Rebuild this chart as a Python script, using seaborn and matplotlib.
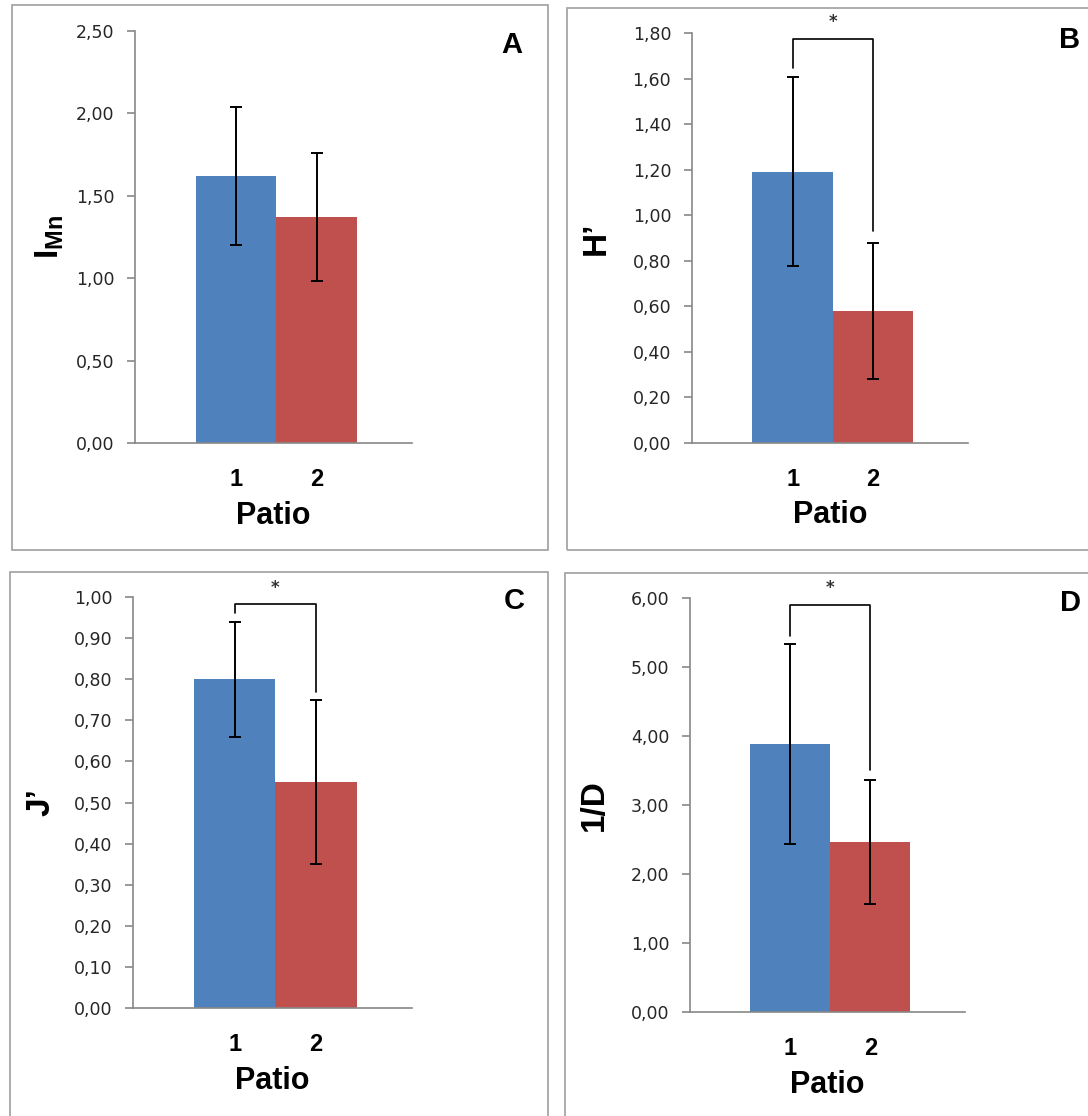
import numpy as np
import pandas as pd
import matplotlib
matplotlib.use("Agg")
import matplotlib.pyplot as plt
from matplotlib.patches import Rectangle
import seaborn as sns

sns.set_theme(style="white")
plt.rcParams['font.family'] = ['Liberation Sans', 'DejaVu Sans']
plt.rcParams['mathtext.fontset'] = 'custom'
plt.rcParams['mathtext.bf'] = 'Liberation Sans:bold'
plt.rcParams['mathtext.rm'] = 'Liberation Sans'

# ---- data ----
patio = ["1", "2"]
imn_mean = [1.62, 1.37]
imn_err = [0.42, 0.39]
h_mean = [1.19, 0.58]
h_err = [0.415, 0.30]
j_mean = [0.80, 0.55]
j_err = [0.14, 0.20]
invd_mean = [3.88, 2.46]
invd_err = [1.45, 0.90]

panel_letters = ["A", "B", "C", "D"]
ylabels = [r"$\mathbf{I}_{\mathbf{Mn}}$", "H’", "J’", "1/D"]
yticks_list = [np.arange(0, 2.51, 0.5), np.arange(0, 1.81, 0.2),
               np.arange(0, 1.001, 0.1), np.arange(0, 6.01, 1.0)]
# significance brackets: (bracket y, left leg bottom, right leg bottom, star y)
brackets = [None, (1.775, 1.645, 0.93, 1.81), (0.984, 0.961, 0.77, 1.0), (5.90, 5.45, 3.51, 6.02)]

means = [imn_mean, h_mean, j_mean, invd_mean]
errs = [imn_err, h_err, j_err, invd_err]

colors = ["#4F81BD", "#C0504D"]
W, H = 1088, 1116
fig = plt.figure(figsize=(W / 100, H / 100), dpi=100)

# panel frames (pixels: x0, y0, x1, y1)
frames = [(12, 5, 548, 550), (567, 8, 1095, 550), (10, 572, 548, 1122), (565, 573, 1095, 1122)]
for (x0, y0, x1, y1) in frames:
    fig.patches.append(Rectangle((x0 / W, 1 - y1 / H), (x1 - x0) / W, (y1 - y0) / H,
                                 transform=fig.transFigure, fill=False,
                                 edgecolor="#a6a6a6", linewidth=1.3, zorder=0))

# axes positions in pixels: left, top, right, bottom
axpos = [(135, 31, 412, 443), (692, 33, 968, 443), (133, 597, 412, 1008), (690, 598, 965, 1012)]
ylab_x = [-0.25, -0.29, -0.276, -0.29]
letter_pos = [(512, 45), (1070, 40), (514, 601), (1070, 603)]

for i in range(4):
    l, t, r, b = axpos[i]
    ax = fig.add_axes([l / W, 1 - b / H, (r - l) / W, (b - t) / H])
    df = pd.DataFrame({"Patio": patio, "val": means[i]})
    sns.barplot(data=df, x="Patio", y="val", hue="Patio", palette=colors,
                width=1.0, legend=False, ax=ax, errorbar=None, saturation=1.0,
                edgecolor="none")
    ax.errorbar([0, 1], means[i], yerr=errs[i], fmt="none", ecolor="black",
                elinewidth=1.4, capsize=4.5, capthick=1.4, zorder=5)
    yt = yticks_list[i]
    ax.set_ylim(0, yt[-1])
    ax.set_yticks(yt)
    ax.set_yticklabels([f"{v:.2f}".replace(".", ",") for v in yt],
                       fontfamily="DejaVu Sans", fontsize=12.5, color="#262626")
    ax.set_xlim(-1.25, 2.18)
    ax.set_xticks([0, 1])
    ax.set_xticklabels(patio, fontsize=17, fontweight="bold", color="black")
    ax.set_xticks([-1.25, 2.18], minor=True)
    ax.tick_params(axis="x", which="major", length=0, pad=18)
    ax.tick_params(axis="x", which="minor", length=6, width=1.2, color="#888888", direction="out")
    ax.tick_params(axis="y", length=6, width=1.2, color="#888888", direction="out", left=True, pad=9)
    for s in ["top", "right"]:
        ax.spines[s].set_visible(False)
    for s in ["left", "bottom"]:
        ax.spines[s].set_color("#888888")
        ax.spines[s].set_linewidth(1.2)
    ax.set_xlabel("Patio", fontsize=22, fontweight="bold", color="black")
    ax.xaxis.set_label_coords(0.5, -0.14)
    ax.set_ylabel(ylabels[i], fontsize=24, fontweight="bold", color="black")
    ax.yaxis.set_label_coords(ylab_x[i], 0.5)
    ax.patch.set_alpha(0)

    br = brackets[i]
    if br is not None:
        yb, yl, yr, ys = br
        ax.plot([0, 0, 1, 1], [yl, yb, yb, yr], color="black", linewidth=1.2, clip_on=False, zorder=6)
        ax.text(0.5, ys, "*", ha="center", va="bottom", fontsize=12, color="#333333",
                fontfamily="DejaVu Sans", fontweight="bold", clip_on=False)

    lx, ly = letter_pos[i]
    fig.text(lx / W, 1 - ly / H, panel_letters[i], ha="center", va="center",
             fontsize=21, fontweight="bold", color="black")

fig.savefig("out.png", dpi=100)
